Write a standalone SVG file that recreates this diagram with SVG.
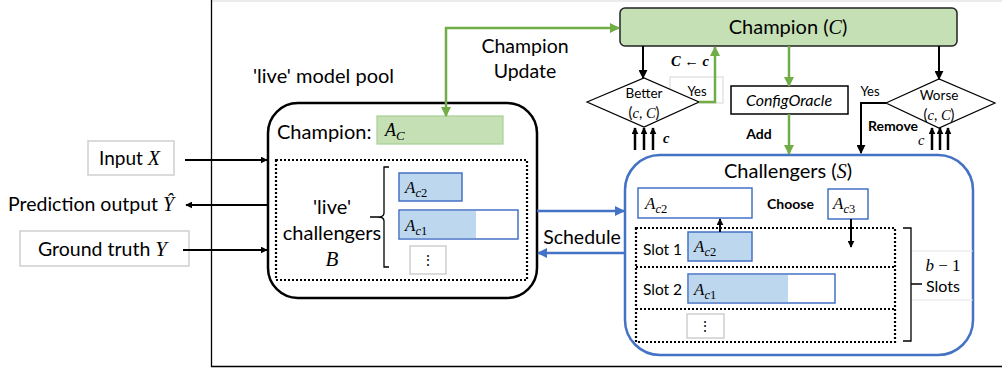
<svg xmlns="http://www.w3.org/2000/svg" width="1002" height="373" viewBox="0 0 1002 373">
<defs>
<marker id="ab" viewBox="0 0 10 10" refX="9" refY="5" markerWidth="9" markerHeight="9" markerUnits="userSpaceOnUse" orient="auto-start-reverse"><path d="M0,0 L10,5 L0,10 z" fill="#000"/></marker>
<marker id="as" viewBox="0 0 10 10" refX="9" refY="5" markerWidth="7" markerHeight="7" markerUnits="userSpaceOnUse" orient="auto-start-reverse"><path d="M0,0 L10,5 L0,10 z" fill="#000"/></marker>
<marker id="ag" viewBox="0 0 10 10" refX="9" refY="5" markerWidth="10" markerHeight="10" markerUnits="userSpaceOnUse" orient="auto-start-reverse"><path d="M0,0 L10,5 L0,10 z" fill="#70ad47"/></marker>
<marker id="abl" viewBox="0 0 10 10" refX="9" refY="5" markerWidth="10" markerHeight="10" markerUnits="userSpaceOnUse" orient="auto-start-reverse"><path d="M0,0 L10,5 L0,10 z" fill="#4472c4"/></marker>
</defs>
<style>
.t{font-family:Lato,"Open Sans",sans-serif;fill:#000}
.m{font-family:"Liberation Serif","DejaVu Serif",serif;font-style:italic;fill:#000}
.b{font-weight:bold}
.blk{stroke:#000;stroke-width:2;fill:none}
.grn{stroke:#70ad47;stroke-width:2.5;fill:none}
.blu{stroke:#4472c4;stroke-width:2.5;fill:none}
.dot{stroke:#000;stroke-width:2.2;stroke-dasharray:2 2;fill:none}
.gbox{fill:#fff;stroke:#cfcfcf;stroke-width:1.5}
.bbox{fill:#bdd7ee;stroke:#4472c4;stroke-width:1.5}
.wbox{fill:#fff;stroke:#4472c4;stroke-width:1.5}
</style>
<rect width="1002" height="373" fill="#fff"/>
<g id="frame">
<line x1="211" y1="1" x2="1002" y2="1" stroke="#e4e4e4" stroke-width="1.5"/>
<line x1="211.5" y1="0" x2="211.5" y2="367" stroke="#000" stroke-width="1.3"/>
<line x1="211" y1="366.5" x2="1002" y2="366.5" stroke="#000" stroke-width="1.3"/>
</g>
<g id="input">
<rect class="gbox" x="88" y="141" width="86" height="34"/>
<text class="t" x="99" y="165" font-size="19">Input <tspan class="m" font-size="20">X</tspan></text>
</g>
<g id="prediction">
<text class="t" x="8" y="211" font-size="19.5">Prediction output <tspan class="m" font-size="20">Ŷ</tspan></text>
</g>
<g id="groundtruth">
<rect class="gbox" x="20" y="231" width="169" height="35"/>
<text class="t" x="38" y="256" font-size="19.5">Ground truth <tspan class="m" font-size="21">Y</tspan></text>
</g>
<g id="pool">
<text class="t" x="253" y="83" font-size="20">'live' model pool</text>
<rect x="268" y="103" width="269" height="195" rx="30" fill="#fff" stroke="#000" stroke-width="2.5"/>
<text class="t" x="277" y="139" font-size="20">Champion:</text>
<rect x="377" y="116" width="126" height="28" fill="#c5e0b4" stroke="#a9cf94" stroke-width="1.2"/>
<text class="m" x="385" y="136" font-size="18">A<tspan font-size="13" dy="4">C</tspan></text>
<rect class="dot" x="276" y="160" width="251" height="120"/>
<text class="t" x="332" y="214" font-size="20" text-anchor="middle">'live'</text>
<text class="t" x="332" y="240" font-size="20" text-anchor="middle">challengers</text>
<text class="m" x="332" y="266" font-size="21" text-anchor="middle">B</text>
<path d="M389,167 L384,167 L384,213 Q384,217 378,217 L370,217 M378,217 Q384,217 384,221 L384,267 L389,267" fill="none" stroke="#000" stroke-width="1.3"/>
<rect class="bbox" x="399" y="173" width="63" height="28"/>
<text class="m" x="405" y="193" font-size="17">A<tspan font-size="12.5" dy="4">c</tspan><tspan font-size="12.5" font-style="normal">2</tspan></text>
<rect x="399" y="210" width="119" height="29" fill="#fff" stroke="#4472c4" stroke-width="1.5"/>
<rect x="400" y="211" width="76" height="27" fill="#bdd7ee"/>
<text class="m" x="405" y="231" font-size="17">A<tspan font-size="12.5" dy="4">c</tspan><tspan font-size="12.5" font-style="normal">1</tspan></text>
<rect class="gbox" x="410" y="246" width="36" height="28"/>
<text class="t" x="428" y="265" font-size="14" text-anchor="middle">⋮</text>
</g>
<g id="update-label">
<text class="t" x="525" y="53" font-size="19.5" text-anchor="middle">Champion</text>
<text class="t" x="525" y="78" font-size="19.5" text-anchor="middle">Update</text>
</g>
<g id="schedule-label">
<text class="t" x="582" y="244" font-size="19.5" text-anchor="middle">Schedule</text>
</g>
<g id="champion">
<rect x="620" y="8" width="337" height="38" rx="5" fill="#c5e0b4" stroke="#222" stroke-width="1.5"/>
<text class="t" x="788" y="34" font-size="20" text-anchor="middle">Champion (<tspan class="m">C</tspan>)</text>
</g>
<g id="better">
<rect x="670" y="77" width="53" height="26" fill="#fff" stroke="#dcdcdc" stroke-width="1.2"/>
<text class="t" x="697" y="96" font-size="13" text-anchor="middle">Yes</text>
<polygon points="587,102 644,78 699,102 644,127" fill="#fff" stroke="#000" stroke-width="1.2"/>
<text class="t" x="644" y="98" font-size="13.5" text-anchor="middle">Better</text>
<text class="t" x="644" y="118" font-size="14.5" text-anchor="middle">(<tspan class="m">c</tspan>, <tspan class="m">C</tspan>)</text>
<text class="m b" x="690" y="66" font-size="14.5" text-anchor="middle">C ← c</text>
<text class="m b" x="663" y="143" font-size="14.5">c</text>
</g>
<g id="configoracle">
<rect x="731" y="86" width="117" height="28" fill="#fff" stroke="#000" stroke-width="1.5"/>
<text class="t" x="789" y="106" font-size="16" font-style="italic" text-anchor="middle">ConfigOracle</text>
<text class="t b" x="759" y="139" font-size="14" text-anchor="middle">Add</text>
</g>
<g id="worse">
<polygon points="886,103 939,79 995,103 939,128" fill="#fff" stroke="#000" stroke-width="1.2"/>
<text class="t" x="939" y="100" font-size="13.5" text-anchor="middle">Worse</text>
<text class="t" x="939" y="120" font-size="14.5" text-anchor="middle">(<tspan class="m">c</tspan>, <tspan class="m">C</tspan>)</text>
<text class="t" x="870" y="96" font-size="13" text-anchor="middle">Yes</text>
<text class="t b" x="893" y="131" font-size="14" text-anchor="middle">Remove</text>
<text class="m" x="918" y="145" font-size="14.5">c</text>
</g>
<g id="challengers">
<rect x="625" y="155" width="348" height="200" rx="35" fill="#fff" stroke="#4472c4" stroke-width="2.5"/>
<text class="t" x="788" y="178" font-size="20" text-anchor="middle">Challengers (<tspan class="m">S</tspan>)</text>
<rect class="wbox" x="638" y="188" width="114" height="30"/>
<text class="m" x="645" y="209" font-size="17">A<tspan font-size="12.5" dy="4">c</tspan><tspan font-size="12.5" font-style="normal">2</tspan></text>
<text class="t b" x="767" y="209" font-size="14">Choose</text>
<rect class="wbox" x="828" y="189" width="40" height="30"/>
<text class="m" x="833" y="209" font-size="17">A<tspan font-size="12.5" dy="4">c</tspan><tspan font-size="12.5" font-style="normal">3</tspan></text>
<rect class="dot" x="636" y="228" width="259" height="114"/>
<line class="dot" x1="636" y1="267" x2="895" y2="267"/>
<line class="dot" x1="636" y1="309" x2="895" y2="309"/>
<text class="t" x="643" y="255" font-size="15.5">Slot 1</text>
<rect class="bbox" x="688" y="232" width="64" height="29"/>
<text class="m" x="694" y="252" font-size="17">A<tspan font-size="12.5" dy="4">c</tspan><tspan font-size="12.5" font-style="normal">2</tspan></text>
<text class="t" x="643" y="295" font-size="15.5">Slot 2</text>
<rect x="688" y="274" width="147" height="29" fill="#fff" stroke="#4472c4" stroke-width="1.5"/>
<rect x="689" y="275" width="99" height="27" fill="#bdd7ee"/>
<text class="m" x="694" y="295" font-size="17">A<tspan font-size="12.5" dy="4">c</tspan><tspan font-size="12.5" font-style="normal">1</tspan></text>
<rect class="gbox" x="687" y="314" width="37" height="24"/>
<text class="t" x="705" y="331" font-size="14" text-anchor="middle">⋮</text>
<path d="M903,228 L911,228 L911,341 L903,341 M911,284 L922,284" fill="none" stroke="#000" stroke-width="1.3"/>
<line x1="912" y1="251" x2="973" y2="251" stroke="#e6e6e6" stroke-width="1.2"/>
<line x1="912" y1="300" x2="973" y2="300" stroke="#e6e6e6" stroke-width="1.2"/>
<text class="m" x="943" y="271" font-size="17" text-anchor="middle">b <tspan font-style="normal">− 1</tspan></text>
<text class="t" x="943" y="292" font-size="16" text-anchor="middle">Slots</text>
</g>
<g id="connectors">
<line class="blk" x1="185" y1="160" x2="267" y2="160" marker-end="url(#as)"/>
<line class="blk" x1="268" y1="205" x2="186" y2="205" marker-end="url(#as)"/>
<line class="blk" x1="183" y1="250" x2="267" y2="250" marker-end="url(#as)"/>
<path class="grn" d="M446,116 L446,28 L619,28" marker-start="url(#ag)" marker-end="url(#ag)"/>
<line class="blk" x1="643" y1="46" x2="643" y2="78" marker-end="url(#ab)"/>
<path class="grn" d="M699,102 L715,102 L715,47" marker-end="url(#ag)"/>
<line class="grn" x1="789" y1="46" x2="789" y2="86" marker-end="url(#ag)"/>
<line class="grn" x1="789" y1="114" x2="789" y2="154" marker-end="url(#ag)"/>
<line class="blk" x1="939" y1="46" x2="939" y2="79" marker-end="url(#ab)"/>
<path class="blk" d="M886,103 L861,103 L861,153" marker-end="url(#ab)" stroke-width="2.5"/>
<g stroke="#000" stroke-width="2.5">
<line x1="635" y1="150" x2="635" y2="128" marker-end="url(#as)"/>
<line x1="644" y1="150" x2="644" y2="128" marker-end="url(#as)"/>
<line x1="653" y1="150" x2="653" y2="128" marker-end="url(#as)"/>
<line x1="932" y1="150" x2="932" y2="128" marker-end="url(#as)"/>
<line x1="940" y1="150" x2="940" y2="128" marker-end="url(#as)"/>
<line x1="948" y1="150" x2="948" y2="128" marker-end="url(#as)"/>
</g>
<line class="blu" x1="537" y1="211" x2="624" y2="211" marker-end="url(#abl)"/>
<line class="blu" x1="625" y1="253" x2="538" y2="253" marker-end="url(#abl)"/>
<line class="blk" x1="851" y1="219" x2="851" y2="247" marker-end="url(#as)"/>
<line class="blk" x1="720" y1="232" x2="720" y2="219" marker-end="url(#as)"/>
</g>
</svg>
